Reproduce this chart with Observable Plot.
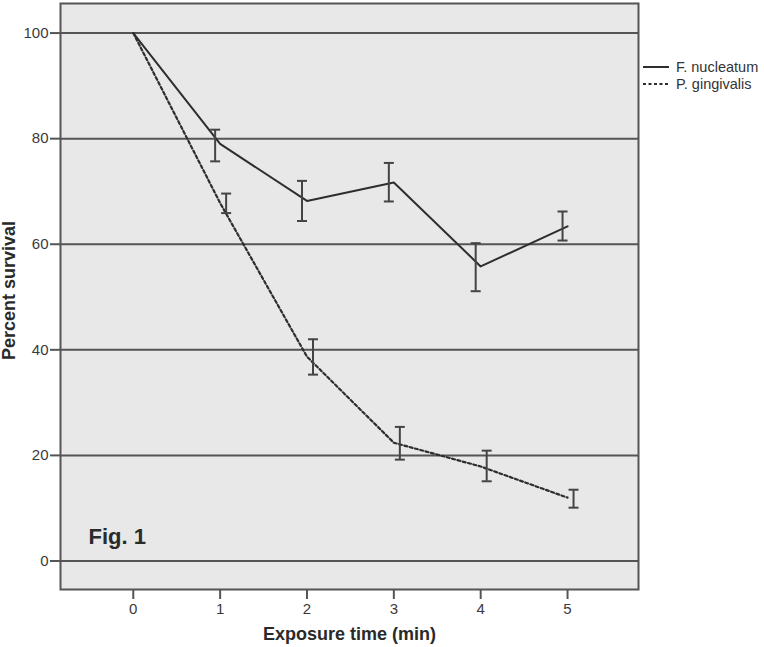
<!DOCTYPE html>
<html><head><meta charset="utf-8">
<script src="https://cdn.jsdelivr.net/npm/d3@7"></script>
<script src="https://cdn.jsdelivr.net/npm/@observablehq/plot@0.6"></script>
<style>
body{margin:0;background:#fff;}
#chart{position:relative;width:764px;height:647px;}
</style>
</head><body><div id="chart"></div>
<script>
const times = [0, 1, 2, 3, 4, 5];
const seriesNames = ["F. nucleatum", "P. gingivalis"];
const fnMean = [100, 79.0, 68.2, 71.7, 55.8, 63.4];
const fnLow  = [null, 75.7, 64.4, 68.1, 51.1, 60.7];
const fnHigh = [null, 81.7, 72.0, 75.4, 60.2, 66.2];
const pgMean = [100, 67.8, 38.7, 22.4, 17.9, 12.0];
const pgLow  = [null, 65.9, 35.3, 19.2, 15.1, 10.1];
const pgHigh = [null, 69.6, 42.0, 25.4, 20.9, 13.5];
const yTicks = [0, 20, 40, 60, 80, 100];
const xLabel = "Exposure time (min)";
const yLabel = "Percent survival";
const figLabel = "Fig. 1";

const FONT = "'Liberation Sans', Arial, sans-serif";
const fn = times.map((t, i) => ({t, mean: fnMean[i], low: fnLow[i], high: fnHigh[i]}));
const pg = times.map((t, i) => ({t, mean: pgMean[i], low: pgLow[i], high: pgHigh[i]}));
const fnErr = fn.filter(d => d.low != null);
const pgErr = pg.filter(d => d.low != null);

const capSymbol = {
  draw(context, size) {
    const r = Math.sqrt(size / Math.PI);
    context.moveTo(-r, 0);
    context.lineTo(r, 0);
  }
};
const errColor = "#444";
const lineColor = "#2e2e2e";
const dash = "3,2.5";

function errMarks(data, dx) {
  return [
    Plot.ruleX(data, {x: "t", y1: "low", y2: "high", dx, stroke: errColor, strokeWidth: 2}),
    Plot.dot(data, {x: "t", y: "low", dx, symbol: capSymbol, r: 5, fill: "none", stroke: errColor, strokeWidth: 2}),
    Plot.dot(data, {x: "t", y: "high", dx, symbol: capSymbol, r: 5, fill: "none", stroke: errColor, strokeWidth: 2})
  ];
}

const chart = Plot.plot({
  width: 764,
  height: 647,
  marginTop: 3,
  marginBottom: 58,
  marginLeft: 60,
  marginRight: 126,
  style: {fontFamily: FONT, background: "#fff", color: "#333"},
  x: {domain: [-0.838, 5.817]},
  y: {domain: [-5.4, 105.6]},
  marks: [
    Plot.frame({fill: "#e8e8e8", stroke: null}),
    Plot.ruleY(yTicks, {stroke: "#555", strokeWidth: 2}),
    Plot.line(fn, {x: "t", y: "mean", stroke: lineColor, strokeWidth: 2}),
    Plot.line(pg, {x: "t", y: "mean", stroke: lineColor, strokeWidth: 2.2, strokeDasharray: dash}),
    ...errMarks(fnErr, -5),
    ...errMarks(pgErr, 6),
    Plot.frame({stroke: "#555", strokeWidth: 2}),
    Plot.axisY({ticks: yTicks, tickSize: 10, tickPadding: 2, fontSize: 15, label: null, stroke: "#555", strokeWidth: 2, fill: "#3a3a3a", tickFormat: d => String(d)}),
    Plot.axisX({ticks: times, tickSize: 10, tickPadding: 4, fontSize: 15, label: null, stroke: "#555", strokeWidth: 2, fill: "#3a3a3a", tickFormat: d => String(d)}),
    Plot.text([xLabel], {frameAnchor: "bottom", dy: 45, lineAnchor: "middle", fontSize: 18, fontWeight: "bold", fill: "#2a2a2a"}),
    Plot.text([yLabel], {frameAnchor: "left", rotate: -90, dx: -51, dy: -6, textAnchor: "middle", lineAnchor: "middle", fontSize: 18, fontWeight: "bold", fill: "#2a2a2a"}),
    Plot.text([figLabel], {frameAnchor: "bottom-left", dx: 28, dy: -53, textAnchor: "start", lineAnchor: "middle", fontSize: 22, fontWeight: "bold", fill: "#2a2a2a"})
  ]
});
document.getElementById("chart").appendChild(chart);

// Legend in right margin
const svg = d3.select(chart);
const lg = svg.append("g").attr("font-family", FONT).attr("font-size", 14.5).attr("text-anchor", "start");
const legendRows = [
  {name: seriesNames[0], y: 67, dash: null},
  {name: seriesNames[1], y: 84, dash: dash}
];
legendRows.forEach(r => {
  lg.append("line").attr("x1", 643).attr("x2", 669).attr("y1", r.y).attr("y2", r.y)
    .attr("stroke", lineColor).attr("stroke-width", 2).attr("stroke-dasharray", r.dash);
  lg.append("text").attr("x", 676).attr("y", r.y + 5).attr("fill", "#333").attr("text-anchor", "start").text(r.name);
});
</script>
</body></html>
